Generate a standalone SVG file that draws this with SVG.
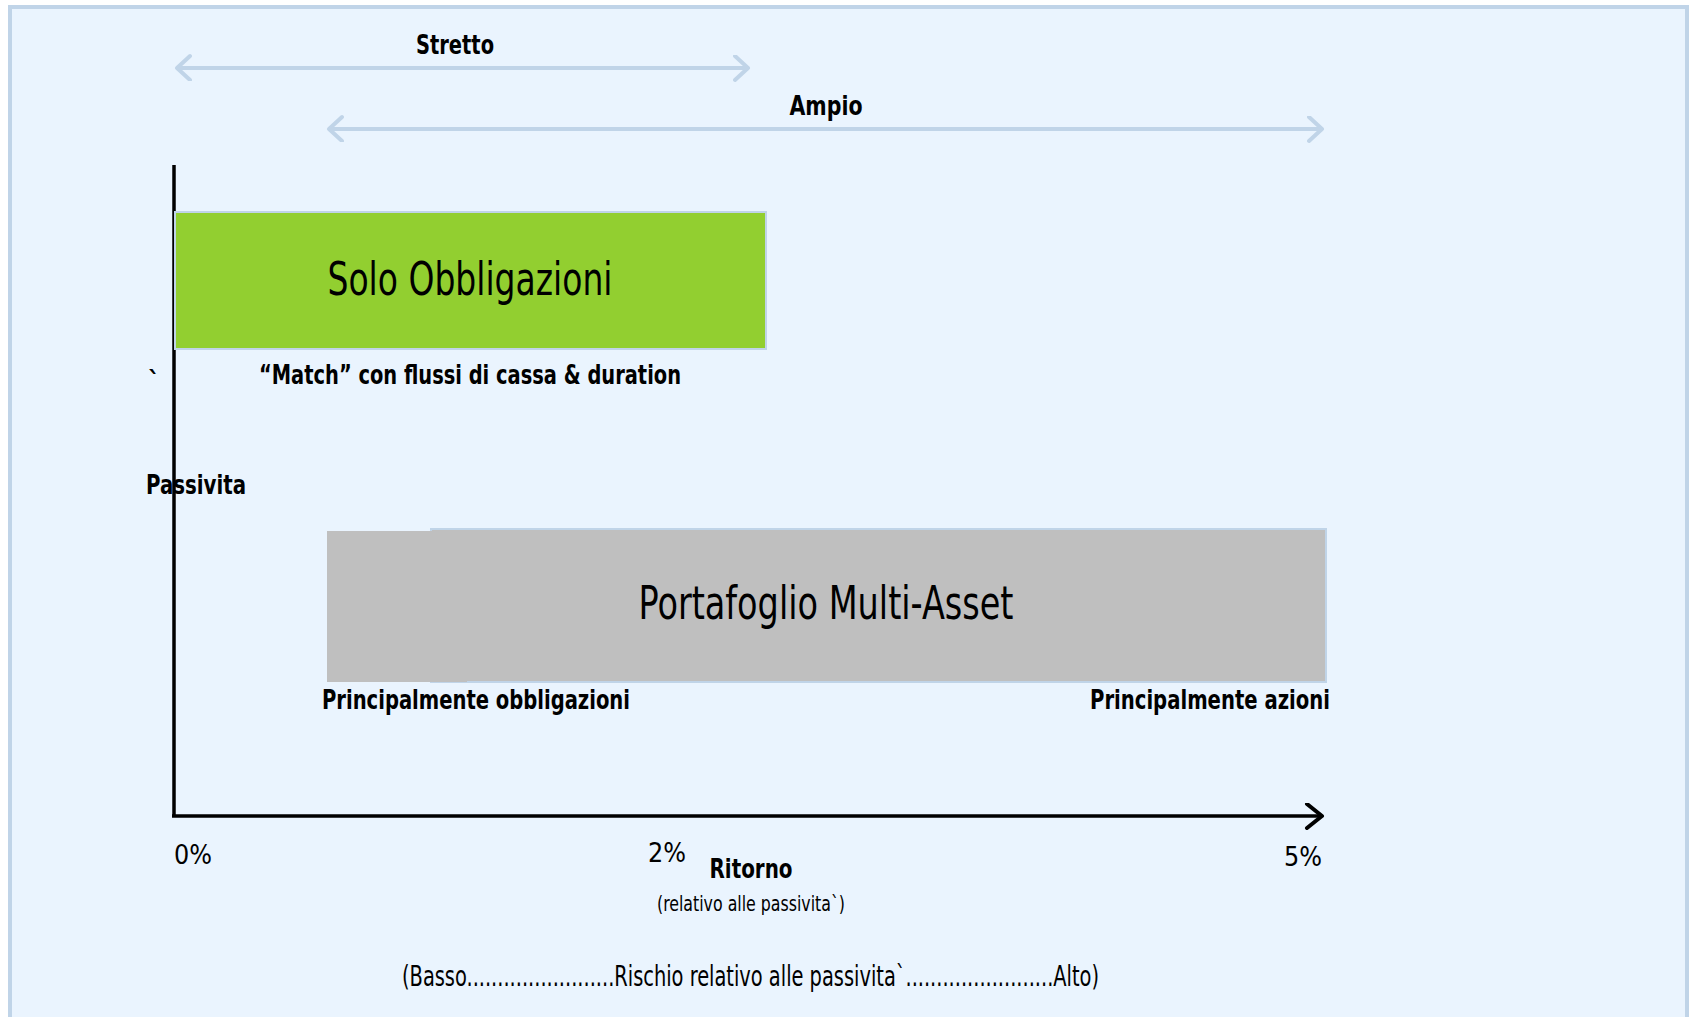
<svg xmlns="http://www.w3.org/2000/svg" width="1695" height="1017" viewBox="0 0 1695 1017">
<style>
.t{font-family:"Liberation Sans Narrow","DejaVu Sans Condensed","Liberation Sans",sans-serif;fill:#000}
.b{font-weight:bold}
.big{font-size:46px}
.lab{font-size:27px}
.num{font-size:27px}
.blue{stroke:#c0d4e8;stroke-width:4;fill:none}
</style>
<defs>
<marker id="chev" markerUnits="userSpaceOnUse" markerWidth="30" markerHeight="34" refX="15" refY="13" orient="auto-start-reverse" viewBox="0 0 30 34">
<path d="M2,1 L15,13 L2,25" fill="none" stroke="#c0d4e8" stroke-width="4" stroke-linecap="round" stroke-linejoin="round"/>
</marker>
<marker id="ax" markerUnits="userSpaceOnUse" markerWidth="30" markerHeight="34" refX="18" refY="13" orient="auto" viewBox="0 0 30 34">
<path d="M3,1 L18,13 L3,25" fill="none" stroke="#000" stroke-width="4" stroke-linecap="round" stroke-linejoin="round"/>
</marker>
</defs>
<rect x="10" y="7" width="1677" height="1020" fill="#eaf4fe" stroke="#c0d4e8" stroke-width="4"/>
<g id="connectors">
<line id="stretto-arrow" x1="177" y1="68" x2="748" y2="68" class="blue" marker-start="url(#chev)" marker-end="url(#chev)"/>
<line id="ampio-arrow" x1="329" y1="129" x2="1322" y2="129" class="blue" marker-start="url(#chev)" marker-end="url(#chev)"/>
<line id="y-axis" x1="174" y1="165" x2="174" y2="817" stroke="#000" stroke-width="3.5"/>
<line id="x-axis" x1="172" y1="816" x2="1322" y2="816" stroke="#000" stroke-width="3.5" marker-end="url(#ax)"/>
</g>
<g id="stretto-label"><text class="t b lab" x="455" y="54" text-anchor="middle" textLength="78" lengthAdjust="spacingAndGlyphs">Stretto</text></g>
<g id="ampio-label"><text class="t b lab" x="826" y="115" text-anchor="middle" textLength="73" lengthAdjust="spacingAndGlyphs">Ampio</text></g>
<g id="solo-obbligazioni">
<rect x="175" y="212" width="591" height="137" fill="#92cf30" stroke="#c0d4e8" stroke-width="2"/>
<text class="t big" x="470" y="295" text-anchor="middle" textLength="285" lengthAdjust="spacingAndGlyphs">Solo Obbligazioni</text>
</g>
<g id="match-label"><text class="t b lab" x="470" y="384" text-anchor="middle" textLength="422" lengthAdjust="spacingAndGlyphs">“Match” con flussi di cassa &amp; duration</text></g>
<g id="tick"><text class="t b lab" x="148" y="391">`</text></g>
<g id="passivita-label"><text class="t b lab" x="146" y="494" textLength="100" lengthAdjust="spacingAndGlyphs">Passivita</text></g>
<g id="multi-asset">
<rect x="431" y="529" width="895" height="153" fill="#bfbfbf" stroke="#c0d4e8" stroke-width="2"/>
<rect x="327" y="531" width="140" height="151" fill="#bfbfbf"/>
<text class="t big" x="826" y="619" text-anchor="middle" textLength="375" lengthAdjust="spacingAndGlyphs">Portafoglio Multi-Asset</text>
</g>
<g id="obbligazioni-label"><text class="t b lab" x="322" y="709" textLength="308" lengthAdjust="spacingAndGlyphs">Principalmente obbligazioni</text></g>
<g id="azioni-label"><text class="t b lab" x="1090" y="709" textLength="240" lengthAdjust="spacingAndGlyphs">Principalmente azioni</text></g>
<g id="ticks">
<text class="t num" x="174" y="864" textLength="38" lengthAdjust="spacingAndGlyphs">0%</text>
<text class="t num" x="648" y="862" textLength="38" lengthAdjust="spacingAndGlyphs">2%</text>
<text class="t num" x="1284" y="866" textLength="38" lengthAdjust="spacingAndGlyphs">5%</text>
</g>
<g id="ritorno-label">
<text class="t b lab" x="751" y="878" text-anchor="middle" textLength="83" lengthAdjust="spacingAndGlyphs">Ritorno</text>
<text class="t" x="751" y="911" font-size="22" text-anchor="middle" textLength="188" lengthAdjust="spacingAndGlyphs">(relativo alle passivita`)</text>
</g>
<g id="rischio-label"><text class="t" x="402" y="986" font-size="28" textLength="697" lengthAdjust="spacingAndGlyphs">(Basso........................Rischio relativo alle passivita`........................Alto)</text></g>
</svg>
